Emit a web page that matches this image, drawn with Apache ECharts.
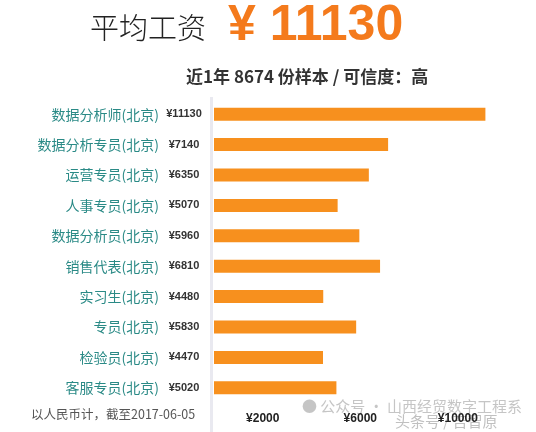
<!DOCTYPE html>
<html lang="zh">
<head>
    <meta charset="UTF-8">
    <title>平均工资</title>
    <script src="https://cdn.jsdelivr.net/npm/echarts@6/dist/echarts.min.js"></script>
    <style>
        html, body { margin: 0; padding: 0; background: #fff; }
        #main { width: 536px; height: 432px; }
    </style>
</head>
<body>
<div id="main"></div>
<script>
    // 职位(北京)
    var jobs = ['数据分析师(北京)', '数据分析专员(北京)', '运营专员(北京)', '人事专员(北京)', '数据分析员(北京)',
        '销售代表(北京)', '实习生(北京)', '专员(北京)', '检验员(北京)', '客服专员(北京)'];
    // 平均月薪
    var salaries = [11130, 7140, 6350, 5070, 5960, 6810, 4480, 5830, 4470, 5020];
    // 横轴上显示的刻度
    var tickLabels = [2000, 6000, 10000];

    var cjk = '"Noto Sans CJK SC", "Liberation Sans", sans-serif';
    var myChart = echarts.init(document.getElementById('main'));

    var option = {
        backgroundColor: '#fff',
        animation: false,
        grid: { left: 214, right: 5, top: 99, height: 304 },
        xAxis: {
            type: 'value',
            min: 0,
            max: 13000,
            interval: 2000,
            axisLine: { show: false },
            axisTick: { show: false },
            splitLine: { show: false },
            axisLabel: {
                margin: 10,
                color: '#222',
                fontWeight: 'bold',
                fontSize: 12,
                fontFamily: '"Liberation Sans", Arial, sans-serif',
                formatter: function (v) {
                    return tickLabels.indexOf(v) >= 0 ? '¥' + v : '';
                }
            }
        },
        yAxis: {
            type: 'category',
            inverse: true,
            data: jobs,
            axisLine: { show: false },
            axisTick: { show: false },
            axisLabel: {
                margin: 11,
                formatter: function (v, i) {
                    return '{n|' + v + '}{p|¥' + salaries[i] + '}';
                },
                rich: {
                    n: { color: '#2a8a86', fontSize: 14, fontFamily: cjk, padding: [0, 6, 0, 0] },
                    p: { color: '#333', fontSize: 11, fontWeight: 'bold', width: 38, align: 'left',
                        fontFamily: '"Liberation Sans", Arial, sans-serif' }
                }
            }
        },
        series: [{
            type: 'bar',
            data: salaries,
            barWidth: 13,
            itemStyle: { color: '#f7901e' }
        }],
        graphic: [
            // 左侧浅色竖线
            { type: 'rect', left: 210, top: 97, shape: { width: 3, height: 335 }, style: { fill: '#e9e9f0' }, z: -1 },
            { type: 'text', left: 90, top: 13,
                style: { text: '平均工资', fontSize: 29, fontWeight: 300, fill: '#222', fontFamily: cjk } },
            { type: 'text', left: 228, top: 1,
                style: { text: '¥ 11130', fontSize: 50, fontWeight: 'bold', fill: '#f47a1c',
                    fontFamily: '"Liberation Sans", Arial, sans-serif' } },
            { type: 'text', left: 186, top: 68,
                style: { text: '近1年 8674 份样本 / 可信度：高', fontSize: 17, fontWeight: 'bold', fill: '#333', fontFamily: cjk } },
            { type: 'text', left: 31, top: 408,
                style: { text: '以人民币计，截至2017-06-05', fontSize: 12.5, fill: '#555', fontFamily: cjk } },
            // 水印
            { type: 'text', left: 302, top: 399,
                style: { text: '● 公众号 · 山西经贸数字工程系', fontSize: 15, fill: 'rgba(150,150,150,0.55)', fontFamily: cjk } },
            { type: 'text', left: 395, top: 414,
                style: { text: '头条号 / 吉智原', fontSize: 15, fill: 'rgba(130,130,130,0.5)', fontFamily: cjk } }
        ]
    };

    myChart.setOption(option);
</script>
</body>
</html>
